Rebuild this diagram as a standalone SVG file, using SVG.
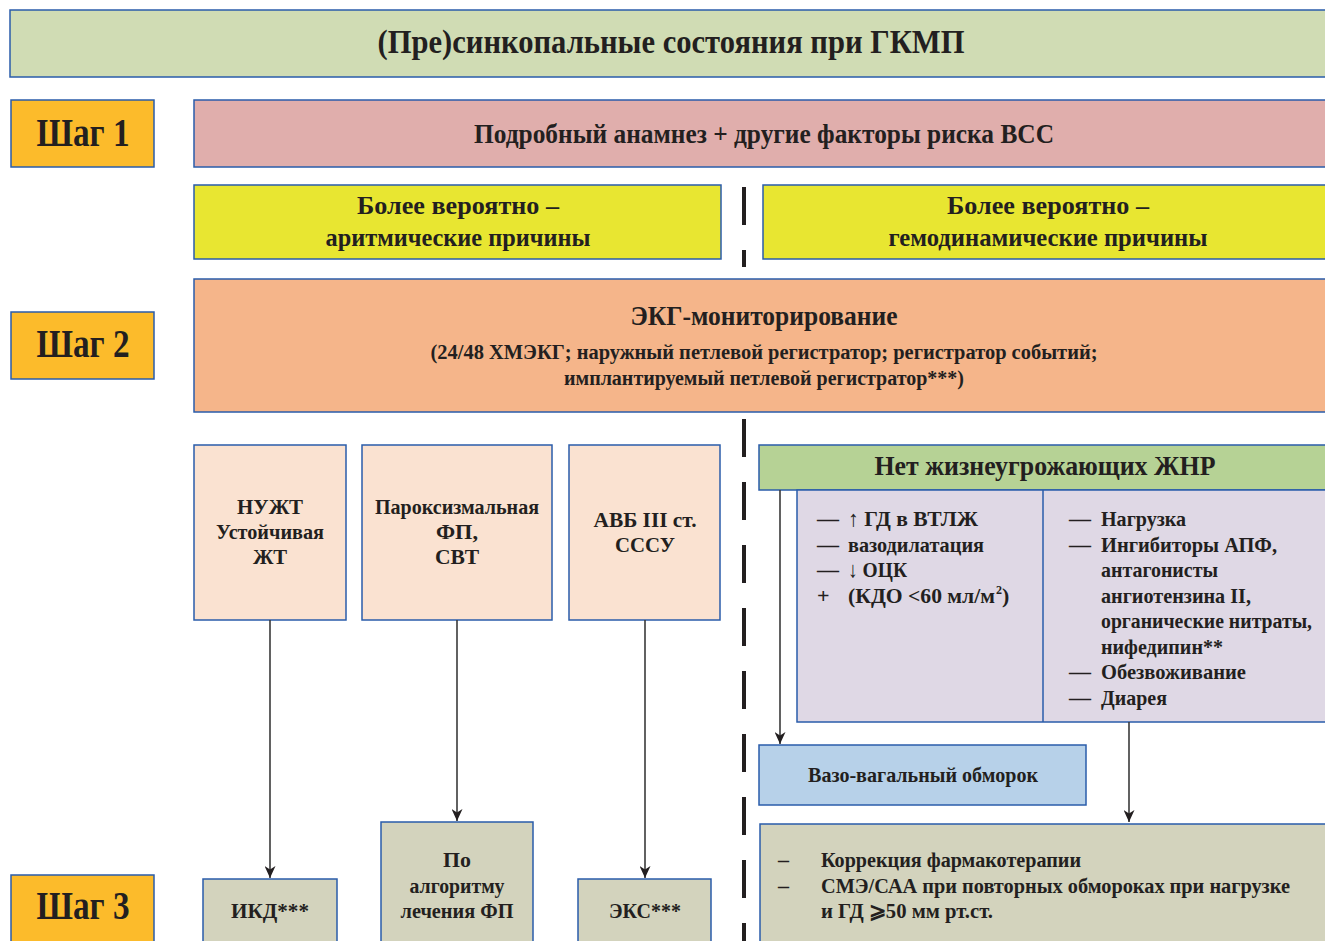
<svg xmlns="http://www.w3.org/2000/svg" width="1325" height="941" viewBox="0 0 1325 941">
<defs>
<marker id="ah" markerWidth="12" markerHeight="11" refX="12" refY="5.5" orient="auto" markerUnits="userSpaceOnUse" viewBox="0 0 12 11">
<path d="M0,0 L12,5.5 L0,11 L3.5,5.5 Z" fill="#231f20"/>
</marker>
<style>
.b{stroke:#2a5caa;stroke-width:1.5}
text{font-family:"Liberation Serif","Times New Roman",serif;font-weight:bold;fill:#231f20}
.c{text-anchor:middle}
.conn{stroke:#3a3a3a;stroke-width:1.6;fill:none}
.dash{stroke:#231f20;stroke-width:4;stroke-dasharray:38 25;fill:none}
</style>
</defs>
<rect width="1325" height="941" fill="#ffffff"/>

<g id="title"><rect class="b" x="10" y="10" width="1320" height="67" fill="#d0dcb4"/>
<text class="c" x="671" y="53" font-size="34" textLength="587" lengthAdjust="spacingAndGlyphs">(Пре)синкопальные состояния при ГКМП</text></g>

<g id="step1"><rect class="b" x="11" y="100" width="143" height="67" fill="#fcbb2b"/>
<text class="c" x="83" y="146" font-size="40" textLength="93" lengthAdjust="spacingAndGlyphs">Шаг 1</text></g>
<g id="step2"><rect class="b" x="11" y="312" width="143" height="67" fill="#fcbb2b"/>
<text class="c" x="83" y="357" font-size="40" textLength="93" lengthAdjust="spacingAndGlyphs">Шаг 2</text></g>
<g id="step3"><rect class="b" x="11" y="875" width="143" height="70" fill="#fcbb2b"/>
<text class="c" x="83" y="919" font-size="40" textLength="93" lengthAdjust="spacingAndGlyphs">Шаг 3</text></g>

<g id="anamnesis"><rect class="b" x="194" y="100" width="1136" height="67" fill="#e0aeac"/>
<text class="c" x="764" y="143" font-size="28" textLength="580" lengthAdjust="spacingAndGlyphs">Подробный анамнез + другие факторы риска ВСС</text></g>

<g id="arrhythmic"><rect class="b" x="194" y="185" width="527" height="74" fill="#e8e631"/>
<text class="c" x="458" y="214" font-size="25" textLength="202" lengthAdjust="spacingAndGlyphs">Более вероятно –</text>
<text class="c" x="458" y="246" font-size="25" textLength="265" lengthAdjust="spacingAndGlyphs">аритмические причины</text></g>

<g id="hemodynamic"><rect class="b" x="763" y="185" width="567" height="74" fill="#e8e631"/>
<text class="c" x="1048" y="214" font-size="25" textLength="202" lengthAdjust="spacingAndGlyphs">Более вероятно –</text>
<text class="c" x="1048" y="246" font-size="25" textLength="319" lengthAdjust="spacingAndGlyphs">гемодинамические причины</text></g>

<g id="ecg"><rect class="b" x="194" y="279" width="1136" height="133" fill="#f5b58a"/>
<text class="c" x="764" y="325" font-size="28" textLength="267" lengthAdjust="spacingAndGlyphs">ЭКГ-мониторирование</text>
<text class="c" x="764" y="359" font-size="20" textLength="667" lengthAdjust="spacingAndGlyphs">(24/48 ХМЭКГ; наружный петлевой регистратор; регистратор событий;</text>
<text class="c" x="764" y="385" font-size="20" textLength="400" lengthAdjust="spacingAndGlyphs">имплантируемый петлевой регистратор***)</text></g>

<g id="vt"><rect class="b" x="194" y="445" width="152" height="175" fill="#fae2d1"/>
<text class="c" x="270" y="514" font-size="22" textLength="66" lengthAdjust="spacingAndGlyphs">НУЖТ</text>
<text class="c" x="270" y="539" font-size="22" textLength="108" lengthAdjust="spacingAndGlyphs">Устойчивая</text>
<text class="c" x="270" y="564" font-size="22" textLength="34" lengthAdjust="spacingAndGlyphs">ЖТ</text></g>

<g id="af"><rect class="b" x="362" y="445" width="190" height="175" fill="#fae2d1"/>
<text class="c" x="457" y="514" font-size="22" textLength="164" lengthAdjust="spacingAndGlyphs">Пароксизмальная</text>
<text class="c" x="457" y="539" font-size="22" textLength="42" lengthAdjust="spacingAndGlyphs">ФП,</text>
<text class="c" x="457" y="564" font-size="22" textLength="44" lengthAdjust="spacingAndGlyphs">СВТ</text></g>

<g id="avb"><rect class="b" x="569" y="445" width="151" height="175" fill="#fae2d1"/>
<text class="c" x="645" y="527" font-size="22" textLength="103" lengthAdjust="spacingAndGlyphs">АВБ III ст.</text>
<text class="c" x="645" y="552" font-size="22" textLength="60" lengthAdjust="spacingAndGlyphs">СССУ</text></g>

<g id="no-threat"><rect class="b" x="759" y="445" width="571" height="45" fill="#b6d295"/>
<text class="c" x="1045" y="475" font-size="28" textLength="341" lengthAdjust="spacingAndGlyphs">Нет жизнеугрожающих ЖНР</text></g>

<g id="mechanisms"><rect class="b" x="797" y="490" width="533" height="232" fill="#dfd8e5"/>
<line class="b" x1="1043" y1="490" x2="1043" y2="722"/>
<g font-size="22">
<text x="817" y="526">—</text><text x="848" y="526" textLength="130" lengthAdjust="spacingAndGlyphs">↑ ГД в ВТЛЖ</text>
<text x="817" y="552">—</text><text x="848" y="552" textLength="136" lengthAdjust="spacingAndGlyphs">вазодилатация</text>
<text x="817" y="577">—</text><text x="848" y="577" textLength="59" lengthAdjust="spacingAndGlyphs">↓ ОЦК</text>
<text x="817" y="603">+</text><text x="848" y="603" textLength="147" lengthAdjust="spacingAndGlyphs">(КДО &lt;60 мл/м</text>
<text x="996" y="594" font-size="12">2</text>
<text x="1002" y="603">)</text>
<text x="1069" y="526">—</text><text x="1101" y="526" textLength="85" lengthAdjust="spacingAndGlyphs">Нагрузка</text>
<text x="1069" y="552">—</text><text x="1101" y="552" textLength="176" lengthAdjust="spacingAndGlyphs">Ингибиторы АПФ,</text>
<text x="1101" y="577" textLength="117" lengthAdjust="spacingAndGlyphs">антагонисты</text>
<text x="1101" y="603" textLength="150" lengthAdjust="spacingAndGlyphs">ангиотензина II,</text>
<text x="1101" y="628" font-size="20" textLength="211" lengthAdjust="spacingAndGlyphs">органические нитраты,</text>
<text x="1101" y="654" textLength="122" lengthAdjust="spacingAndGlyphs">нифедипин**</text>
<text x="1069" y="679">—</text><text x="1101" y="679" textLength="145" lengthAdjust="spacingAndGlyphs">Обезвоживание</text>
<text x="1069" y="705">—</text><text x="1101" y="705" textLength="66" lengthAdjust="spacingAndGlyphs">Диарея</text>
</g></g>

<g id="vasovagal"><rect class="b" x="759" y="745" width="327" height="60" fill="#b7d1e9"/>
<text class="c" x="923" y="782" font-size="22" textLength="230" lengthAdjust="spacingAndGlyphs">Вазо-вагальный обморок</text></g>

<g id="correction"><rect class="b" x="760" y="824" width="570" height="125" fill="#d3d3bd"/>
<g font-size="22">
<text x="778" y="867">–</text><text x="821" y="867" textLength="260" lengthAdjust="spacingAndGlyphs">Коррекция фармакотерапии</text>
<text x="778" y="893">–</text><text x="821" y="893" font-size="20" textLength="469" lengthAdjust="spacingAndGlyphs">СМЭ/САА при повторных обмороках при нагрузке</text>
<text x="821" y="918" textLength="172" lengthAdjust="spacingAndGlyphs">и ГД ⩾50 мм рт.ст.</text>
</g></g>

<g id="icd"><rect class="b" x="203" y="879" width="134" height="70" fill="#d3d3bd"/>
<text class="c" x="270" y="918" font-size="22" textLength="78" lengthAdjust="spacingAndGlyphs">ИКД***</text></g>
<g id="af-algo"><rect class="b" x="381" y="822" width="152" height="127" fill="#d3d3bd"/>
<text class="c" x="457" y="867" font-size="22" textLength="28" lengthAdjust="spacingAndGlyphs">По</text>
<text class="c" x="457" y="893" font-size="22" textLength="95" lengthAdjust="spacingAndGlyphs">алгоритму</text>
<text class="c" x="457" y="918" font-size="22" textLength="113" lengthAdjust="spacingAndGlyphs">лечения ФП</text></g>
<g id="pacer"><rect class="b" x="578" y="879" width="133" height="70" fill="#d3d3bd"/>
<text class="c" x="645" y="918" font-size="22" textLength="72" lengthAdjust="spacingAndGlyphs">ЭКС***</text></g>

<g id="connectors">
<line class="dash" x1="744" y1="187" x2="744" y2="267" stroke-dasharray="19 23"/>
<line class="dash" x1="744" y1="419" x2="744" y2="941"/>
<line class="conn" x1="270" y1="620" x2="270" y2="878" marker-end="url(#ah)"/>
<line class="conn" x1="457" y1="620" x2="457" y2="821" marker-end="url(#ah)"/>
<line class="conn" x1="645" y1="620" x2="645" y2="878" marker-end="url(#ah)"/>
<line class="conn" x1="780" y1="490" x2="780" y2="744" marker-end="url(#ah)"/>
<line class="conn" x1="1129" y1="722" x2="1129" y2="822" marker-end="url(#ah)"/>
</g>
</svg>
